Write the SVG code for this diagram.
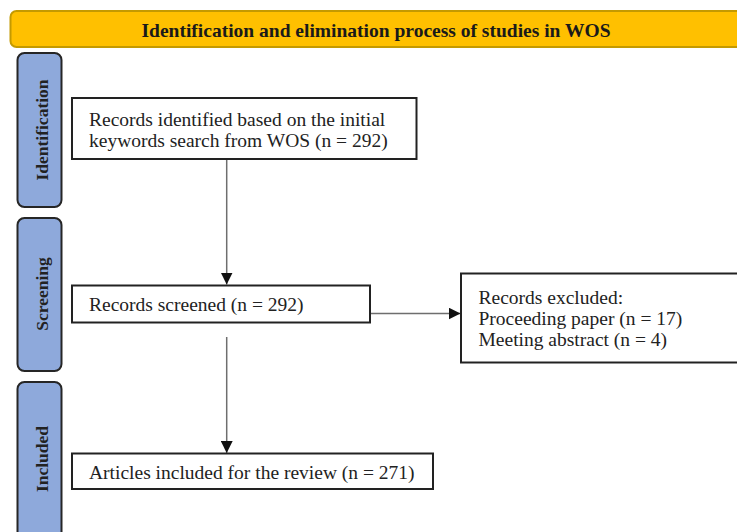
<svg xmlns="http://www.w3.org/2000/svg" width="737" height="532" viewBox="0 0 737 532">
<defs>
<style>
.hdr{fill:#FFC000;stroke:#C49A00;stroke-width:2}
.side{fill:#8EA9DB;stroke:#262626;stroke-width:2}
.box{fill:#fff;stroke:#222;stroke-width:2}
.t{font-family:"Liberation Serif","Times New Roman",serif;font-size:19.5px;fill:#222}
.st{font-family:"Liberation Serif","Times New Roman",serif;font-size:17.5px;font-weight:bold;fill:#222;text-anchor:middle}
.ht{font-family:"Liberation Serif","Times New Roman",serif;font-size:19.5px;font-weight:bold;fill:#1a1a1a;text-anchor:middle}
.ln{stroke:#6e6e6e;stroke-width:1.5;fill:none}
</style>
<marker id="ah" viewBox="0 0 12 12" refX="12" refY="6" markerWidth="12" markerHeight="12" markerUnits="userSpaceOnUse" orient="auto">
<path d="M0,0 L12,6 L0,12 Z" fill="#111"/>
</marker>
</defs>
<rect width="737" height="532" fill="#fff"/>
<g id="header">
<rect class="hdr" x="10.5" y="11" width="740" height="36" rx="6"/>
<text class="ht" x="376" y="36.7">Identification and elimination process of studies in WOS</text>
</g>
<g id="stage-identification">
<rect class="side" x="17.5" y="53" width="44" height="154" rx="7"/>
<text class="st" transform="translate(47.5,130) rotate(-90)">Identification</text>
</g>
<g id="stage-screening">
<rect class="side" x="17.5" y="218" width="44" height="153" rx="7"/>
<text class="st" transform="translate(47.5,294) rotate(-90)">Screening</text>
</g>
<g id="stage-included">
<rect class="side" x="17.5" y="382" width="44" height="170" rx="7"/>
<text class="st" transform="translate(47.5,459) rotate(-90)">Included</text>
</g>
<g id="connectors">
<line class="ln" x1="226.7" y1="160" x2="226.7" y2="284.5" marker-end="url(#ah)"/>
<line class="ln" x1="370" y1="313.5" x2="460.5" y2="313.5" marker-end="url(#ah)"/>
<line class="ln" x1="226.7" y1="337" x2="226.7" y2="453" marker-end="url(#ah)"/>
</g>
<g id="records-identified">
<rect class="box" x="72" y="98" width="344.5" height="61"/>
<text class="t" x="89" y="125.5">Records identified based on the initial</text>
<text class="t" x="89" y="146.5">keywords search from WOS (n = 292)</text>
</g>
<g id="records-screened">
<rect class="box" x="72" y="285.5" width="298" height="37"/>
<text class="t" x="89" y="311">Records screened (n = 292)</text>
</g>
<g id="records-excluded">
<rect class="box" x="461" y="273.5" width="290" height="89"/>
<text class="t" x="478.5" y="304">Records excluded:</text>
<text class="t" x="478.5" y="325">Proceeding paper (n = 17)</text>
<text class="t" x="478.5" y="346">Meeting abstract (n = 4)</text>
</g>
<g id="articles-included">
<rect class="box" x="72" y="453.5" width="361" height="35.5"/>
<text class="t" x="89" y="478.5">Articles included for the review (n = 271)</text>
</g>
</svg>
